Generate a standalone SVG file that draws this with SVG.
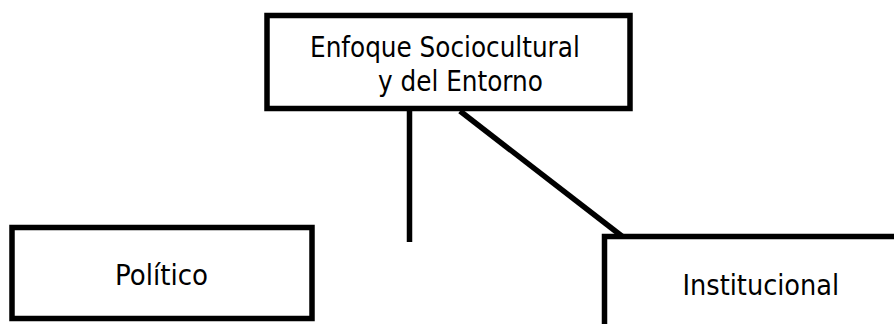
<svg xmlns="http://www.w3.org/2000/svg" width="894" height="324" viewBox="0 0 894 324">
<style>
.box{fill:#fff;stroke:#000;stroke-width:5.5}
.lbl{font-family:"DejaVu Sans Condensed","DejaVu Sans",sans-serif;font-stretch:condensed;font-size:27.5px;fill:#000}
.conn{stroke:#000;stroke-width:5.5;fill:none}
</style>
<rect width="894" height="324" fill="#fff"/>
<g id="connectors">
<line class="conn" x1="409.5" y1="110" x2="409.5" y2="242"/>
<line class="conn" x1="460" y1="111" x2="623" y2="237"/>
</g>
<g id="node-enfoque">
<rect class="box" x="267" y="15.5" width="363" height="93"/>
<text class="lbl" x="310" y="56.5">Enfoque Sociocultural</text>
<text class="lbl" x="378" y="91">y del Entorno</text>
</g>
<g id="node-politico">
<rect class="box" x="12" y="227.5" width="300" height="91"/>
<text class="lbl" x="161.5" y="284.5" text-anchor="middle" style="font-size:29px">Político</text>
</g>
<g id="node-institucional">
<rect class="box" x="604.5" y="236.5" width="330" height="120"/>
<text class="lbl" x="682.5" y="295" style="font-size:28.5px">Institucional</text>
</g>
</svg>
